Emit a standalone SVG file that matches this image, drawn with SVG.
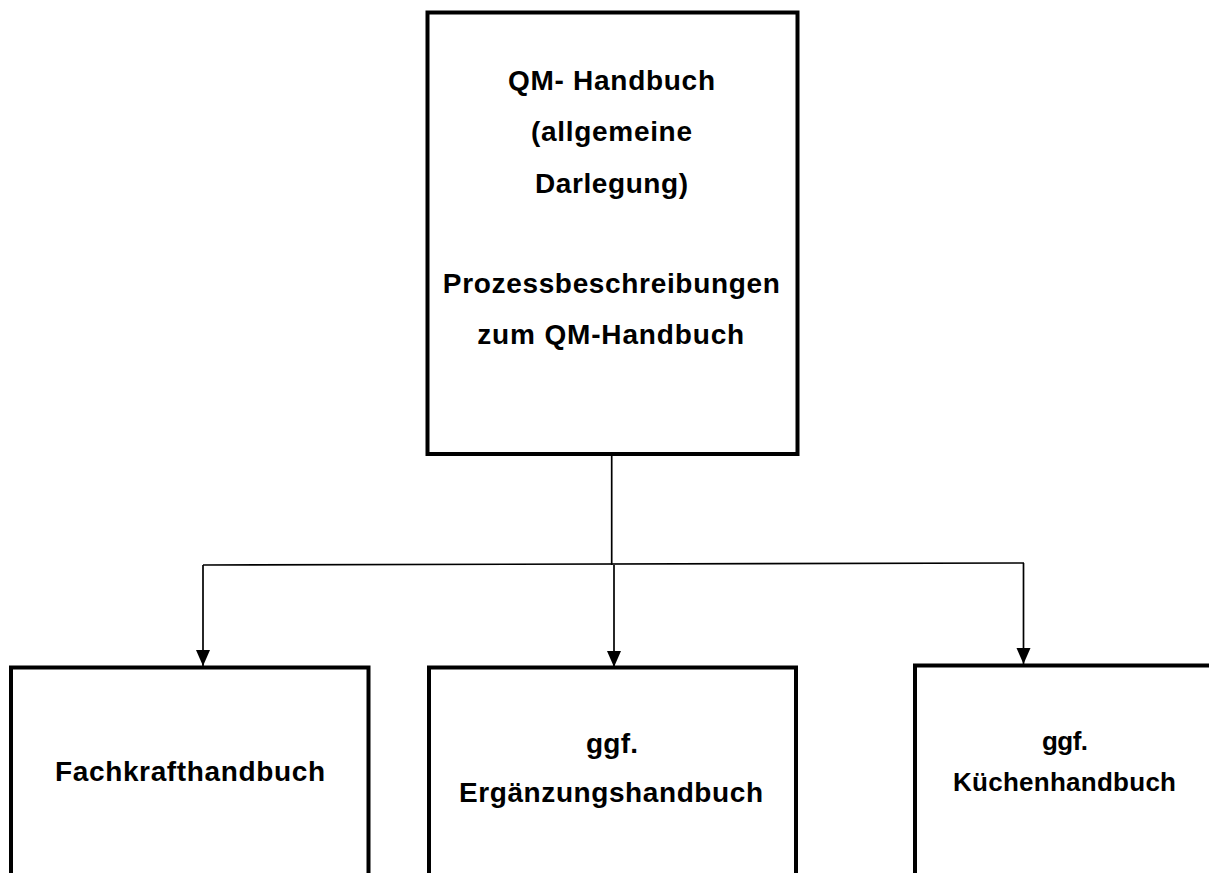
<svg xmlns="http://www.w3.org/2000/svg" width="1209" height="873" viewBox="0 0 1209 873">
  <style>
    .box { fill: #ffffff; stroke: #000000; stroke-width: 4; }
    .lbl { font-family: "Liberation Sans", Arial, sans-serif; font-weight: bold; font-size: 28px; fill: #000000; text-anchor: middle; }
    .sm { font-size: 26px; }
    .conn { stroke: #000000; stroke-width: 1.7; fill: none; }
  </style>
  <defs>
    <marker id="arrow" markerUnits="userSpaceOnUse" markerWidth="17" markerHeight="15" refX="16" refY="7" orient="auto">
      <path d="M0,0 L16,7 L0,14 Z" fill="#000000"/>
    </marker>
  </defs>
  <rect width="1209" height="873" fill="#ffffff"/>

  <g id="connectors">
    <line class="conn" x1="611.7" y1="455" x2="611.7" y2="565"/>
    <line class="conn" x1="203" y1="565" x2="1024" y2="563"/>
    <line class="conn" x1="203" y1="565" x2="203" y2="666" marker-end="url(#arrow)"/>
    <line class="conn" x1="614" y1="565" x2="614" y2="667" marker-end="url(#arrow)"/>
    <line class="conn" x1="1023.5" y1="563" x2="1023.5" y2="664" marker-end="url(#arrow)"/>
  </g>

  <g id="node-qm">
    <rect class="box" x="427.5" y="12.5" width="370" height="441.5"/>
    <text class="lbl" x="611.5" y="90" textLength="207" lengthAdjust="spacing">QM- Handbuch</text>
    <text class="lbl" x="611.5" y="141" textLength="161" lengthAdjust="spacing">(allgemeine</text>
    <text class="lbl" x="611.5" y="192.5" textLength="153" lengthAdjust="spacing">Darlegung)</text>
    <text class="lbl" x="611.3" y="293" textLength="337" lengthAdjust="spacing">Prozessbeschreibungen</text>
    <text class="lbl" x="610.7" y="343.5" textLength="267" lengthAdjust="spacing">zum QM-Handbuch</text>
  </g>

  <g id="node-fachkraft">
    <rect class="box" x="11" y="667.5" width="357.5" height="240"/>
    <text class="lbl" x="190" y="781" textLength="270" lengthAdjust="spacing">Fachkrafthandbuch</text>
  </g>

  <g id="node-ergaenzung">
    <rect class="box" x="429" y="667.5" width="367" height="240"/>
    <text class="lbl" x="612" y="752.7" textLength="52" lengthAdjust="spacing">ggf.</text>
    <text class="lbl" x="611" y="802" textLength="304" lengthAdjust="spacing">Ergänzungshandbuch</text>
  </g>

  <g id="node-kueche">
    <rect class="box" x="915" y="665.5" width="320" height="240"/>
    <text class="lbl sm" x="1065" y="750" textLength="46" lengthAdjust="spacing">ggf.</text>
    <text class="lbl sm" x="1064.5" y="790.5" textLength="223" lengthAdjust="spacing">Küchenhandbuch</text>
  </g>
</svg>
